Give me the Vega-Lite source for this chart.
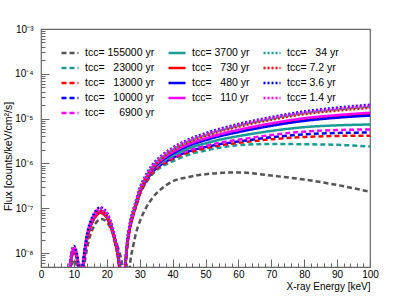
{
"$schema":"https://vega.github.io/schema/vega-lite/v6.json",
"width":329,"height":238,"autosize":"none",
"padding":{"left":41,"top":29,"right":41,"bottom":29},
"background":"white",
"config":{"view":{"stroke":"#666666","strokeWidth":1.2},"font":"Liberation Sans",
"axis":{"grid":false,"labelFont":"Liberation Sans","titleFont":"Liberation Sans","labelColor":"#000000","titleColor":"#000000","titleFontWeight":"normal","tickColor":"#666666","tickWidth":1}},
"data":{"values":[
{"t":"155000","e":8,"f":3e-10},{"t":"155000","e":8.5,"f":1e-9},{"t":"155000","e":9,"f":3.16e-9},{"t":"155000","e":10,"f":7.08e-9},{"t":"155000","e":11,"f":5.01e-9},{"t":"155000","e":11.6,"f":1.58e-9},{"t":"155000","e":12,"f":3e-10},{"t":"155000","e":12.4,"f":1.26e-9},{"t":"155000","e":13,"f":3.98e-9},{"t":"155000","e":14,"f":1.26e-8},{"t":"155000","e":15,"f":2.51e-8},{"t":"155000","e":16.5,"f":4.47e-8},{"t":"155000","e":18,"f":5.75e-8},{"t":"155000","e":19.5,"f":5.37e-8},{"t":"155000","e":21,"f":3.8e-8},{"t":"155000","e":22.5,"f":2.09e-8},{"t":"155000","e":23.5,"f":1.26e-8},{"t":"155000","e":24.3,"f":7.94e-9},{"t":"155000","e":24.8,"f":5.01e-9},{"t":"155000","e":25.3,"f":2.51e-9},{"t":"155000","e":26,"f":3e-10},{"t":"155000","e":27,"f":5.01e-9},{"t":"155000","e":28,"f":1.41e-8},{"t":"155000","e":29,"f":3.02e-8},{"t":"155000","e":30,"f":5.01e-8},{"t":"155000","e":32,"f":1.05e-7},{"t":"155000","e":34,"f":1.74e-7},{"t":"155000","e":37,"f":2.88e-7},{"t":"155000","e":40,"f":3.98e-7},{"t":"155000","e":45,"f":5.01e-7},{"t":"155000","e":50,"f":5.75e-7},{"t":"155000","e":55,"f":6.17e-7},{"t":"155000","e":60,"f":6.31e-7},{"t":"155000","e":70,"f":5.37e-7},{"t":"155000","e":80,"f":4.37e-7},{"t":"155000","e":90,"f":3.31e-7},{"t":"155000","e":100,"f":2.34e-7},
{"t":"23000","e":8,"f":3e-10},{"t":"23000","e":8.5,"f":2.29e-9},{"t":"23000","e":9,"f":5.75e-9},{"t":"23000","e":10,"f":1.1e-8},{"t":"23000","e":11,"f":6.92e-9},{"t":"23000","e":11.6,"f":2.29e-9},{"t":"23000","e":12,"f":3e-10},{"t":"23000","e":12.4,"f":2.29e-9},{"t":"23000","e":13,"f":6.46e-9},{"t":"23000","e":14,"f":2.04e-8},{"t":"23000","e":15,"f":3.8e-8},{"t":"23000","e":16.5,"f":6.46e-8},{"t":"23000","e":18,"f":7.94e-8},{"t":"23000","e":19.5,"f":6.92e-8},{"t":"23000","e":21,"f":4.27e-8},{"t":"23000","e":22.5,"f":1.74e-8},{"t":"23000","e":23.5,"f":7.24e-9},{"t":"23000","e":24.3,"f":1.82e-9},{"t":"23000","e":24.8,"f":3e-10},{"t":"23000","e":25.3,"f":1.82e-9},{"t":"23000","e":26,"f":1.02e-8},{"t":"23000","e":27,"f":3.47e-8},{"t":"23000","e":28,"f":6.92e-8},{"t":"23000","e":29,"f":1.17e-7},{"t":"23000","e":30,"f":1.99e-7},{"t":"23000","e":32,"f":3.78e-7},{"t":"23000","e":34,"f":5.96e-7},{"t":"23000","e":37,"f":8.76e-7},{"t":"23000","e":40,"f":1.12e-6},{"t":"23000","e":45,"f":1.58e-6},{"t":"23000","e":50,"f":1.95e-6},{"t":"23000","e":55,"f":2.29e-6},{"t":"23000","e":60,"f":2.57e-6},{"t":"23000","e":70,"f":2.72e-6},{"t":"23000","e":80,"f":2.69e-6},{"t":"23000","e":90,"f":2.6e-6},{"t":"23000","e":100,"f":2.4e-6},
{"t":"13000","e":8,"f":3e-10},{"t":"13000","e":8.5,"f":2.29e-9},{"t":"13000","e":9,"f":5.75e-9},{"t":"13000","e":10,"f":1.1e-8},{"t":"13000","e":11,"f":6.92e-9},{"t":"13000","e":11.6,"f":2.29e-9},{"t":"13000","e":12,"f":3e-10},{"t":"13000","e":12.4,"f":2.29e-9},{"t":"13000","e":13,"f":6.46e-9},{"t":"13000","e":14,"f":2.04e-8},{"t":"13000","e":15,"f":3.8e-8},{"t":"13000","e":16.5,"f":6.46e-8},{"t":"13000","e":18,"f":7.94e-8},{"t":"13000","e":19.5,"f":6.92e-8},{"t":"13000","e":21,"f":4.27e-8},{"t":"13000","e":22.5,"f":1.74e-8},{"t":"13000","e":23.5,"f":7.24e-9},{"t":"13000","e":24.3,"f":1.82e-9},{"t":"13000","e":24.8,"f":3e-10},{"t":"13000","e":25.3,"f":1.82e-9},{"t":"13000","e":26,"f":1.02e-8},{"t":"13000","e":27,"f":3.47e-8},{"t":"13000","e":28,"f":6.92e-8},{"t":"13000","e":29,"f":1.18e-7},{"t":"13000","e":30,"f":2.03e-7},{"t":"13000","e":32,"f":3.92e-7},{"t":"13000","e":34,"f":6.31e-7},{"t":"13000","e":37,"f":9.55e-7},{"t":"13000","e":40,"f":1.26e-6},{"t":"13000","e":45,"f":1.78e-6},{"t":"13000","e":50,"f":2.19e-6},{"t":"13000","e":55,"f":2.57e-6},{"t":"13000","e":60,"f":2.88e-6},{"t":"13000","e":70,"f":3.47e-6},{"t":"13000","e":80,"f":3.89e-6},{"t":"13000","e":90,"f":4.12e-6},{"t":"13000","e":100,"f":4.17e-6},
{"t":"10000","e":8,"f":3e-10},{"t":"10000","e":8.5,"f":2.4e-9},{"t":"10000","e":9,"f":6.03e-9},{"t":"10000","e":10,"f":1.15e-8},{"t":"10000","e":11,"f":7.24e-9},{"t":"10000","e":11.6,"f":2.4e-9},{"t":"10000","e":12,"f":3e-10},{"t":"10000","e":12.4,"f":2.4e-9},{"t":"10000","e":13,"f":6.76e-9},{"t":"10000","e":14,"f":2.14e-8},{"t":"10000","e":15,"f":3.98e-8},{"t":"10000","e":16.5,"f":6.76e-8},{"t":"10000","e":18,"f":8.32e-8},{"t":"10000","e":19.5,"f":7.24e-8},{"t":"10000","e":21,"f":4.47e-8},{"t":"10000","e":22.5,"f":1.82e-8},{"t":"10000","e":23.5,"f":7.59e-9},{"t":"10000","e":24.3,"f":1.91e-9},{"t":"10000","e":24.8,"f":3e-10},{"t":"10000","e":25.3,"f":1.91e-9},{"t":"10000","e":26,"f":1.07e-8},{"t":"10000","e":27,"f":3.63e-8},{"t":"10000","e":28,"f":7.24e-8},{"t":"10000","e":29,"f":1.24e-7},{"t":"10000","e":30,"f":2.12e-7},{"t":"10000","e":32,"f":4.1e-7},{"t":"10000","e":34,"f":6.61e-7},{"t":"10000","e":37,"f":1e-6},{"t":"10000","e":40,"f":1.32e-6},{"t":"10000","e":45,"f":1.87e-6},{"t":"10000","e":50,"f":2.32e-6},{"t":"10000","e":55,"f":2.74e-6},{"t":"10000","e":60,"f":3.09e-6},{"t":"10000","e":70,"f":3.85e-6},{"t":"10000","e":80,"f":4.47e-6},{"t":"10000","e":90,"f":4.79e-6},{"t":"10000","e":100,"f":4.9e-6},
{"t":"6900","e":8,"f":3e-10},{"t":"6900","e":8.5,"f":2.51e-9},{"t":"6900","e":9,"f":6.31e-9},{"t":"6900","e":10,"f":1.2e-8},{"t":"6900","e":11,"f":7.59e-9},{"t":"6900","e":11.6,"f":2.51e-9},{"t":"6900","e":12,"f":3e-10},{"t":"6900","e":12.4,"f":2.51e-9},{"t":"6900","e":13,"f":7.08e-9},{"t":"6900","e":14,"f":2.24e-8},{"t":"6900","e":15,"f":4.17e-8},{"t":"6900","e":16.5,"f":7.08e-8},{"t":"6900","e":18,"f":8.71e-8},{"t":"6900","e":19.5,"f":7.59e-8},{"t":"6900","e":21,"f":4.68e-8},{"t":"6900","e":22.5,"f":1.91e-8},{"t":"6900","e":23.5,"f":7.94e-9},{"t":"6900","e":24.3,"f":2e-9},{"t":"6900","e":24.8,"f":3e-10},{"t":"6900","e":25.3,"f":2e-9},{"t":"6900","e":26,"f":1.12e-8},{"t":"6900","e":27,"f":3.8e-8},{"t":"6900","e":28,"f":7.59e-8},{"t":"6900","e":29,"f":1.3e-7},{"t":"6900","e":30,"f":2.22e-7},{"t":"6900","e":32,"f":4.3e-7},{"t":"6900","e":34,"f":6.92e-7},{"t":"6900","e":37,"f":1.05e-6},{"t":"6900","e":40,"f":1.38e-6},{"t":"6900","e":45,"f":1.98e-6},{"t":"6900","e":50,"f":2.48e-6},{"t":"6900","e":55,"f":2.97e-6},{"t":"6900","e":60,"f":3.39e-6},{"t":"6900","e":70,"f":4.32e-6},{"t":"6900","e":80,"f":5.13e-6},{"t":"6900","e":90,"f":5.56e-6},{"t":"6900","e":100,"f":5.75e-6},
{"t":"3700","e":8,"f":3e-10},{"t":"3700","e":8.5,"f":2.51e-9},{"t":"3700","e":9,"f":6.31e-9},{"t":"3700","e":10,"f":1.2e-8},{"t":"3700","e":11,"f":7.59e-9},{"t":"3700","e":11.6,"f":2.51e-9},{"t":"3700","e":12,"f":3e-10},{"t":"3700","e":12.4,"f":2.51e-9},{"t":"3700","e":13,"f":7.08e-9},{"t":"3700","e":14,"f":2.24e-8},{"t":"3700","e":15,"f":4.17e-8},{"t":"3700","e":16.5,"f":7.08e-8},{"t":"3700","e":18,"f":8.71e-8},{"t":"3700","e":19.5,"f":7.59e-8},{"t":"3700","e":21,"f":4.68e-8},{"t":"3700","e":22.5,"f":1.91e-8},{"t":"3700","e":23.5,"f":7.94e-9},{"t":"3700","e":24.3,"f":2e-9},{"t":"3700","e":24.8,"f":3e-10},{"t":"3700","e":25.3,"f":2e-9},{"t":"3700","e":26,"f":1.12e-8},{"t":"3700","e":27,"f":3.8e-8},{"t":"3700","e":28,"f":7.59e-8},{"t":"3700","e":29,"f":1.31e-7},{"t":"3700","e":30,"f":2.25e-7},{"t":"3700","e":32,"f":4.4e-7},{"t":"3700","e":34,"f":7.16e-7},{"t":"3700","e":37,"f":1.1e-6},{"t":"3700","e":40,"f":1.48e-6},{"t":"3700","e":45,"f":2.19e-6},{"t":"3700","e":50,"f":2.82e-6},{"t":"3700","e":55,"f":3.47e-6},{"t":"3700","e":60,"f":4.07e-6},{"t":"3700","e":70,"f":5.31e-6},{"t":"3700","e":80,"f":6.46e-6},{"t":"3700","e":90,"f":7.08e-6},{"t":"3700","e":100,"f":7.41e-6},
{"t":"730","e":8,"f":3e-10},{"t":"730","e":8.5,"f":2.29e-9},{"t":"730","e":9,"f":5.75e-9},{"t":"730","e":10,"f":1.1e-8},{"t":"730","e":11,"f":6.92e-9},{"t":"730","e":11.6,"f":2.29e-9},{"t":"730","e":12,"f":3e-10},{"t":"730","e":12.4,"f":2.29e-9},{"t":"730","e":13,"f":6.46e-9},{"t":"730","e":14,"f":2.04e-8},{"t":"730","e":15,"f":3.8e-8},{"t":"730","e":16.5,"f":6.46e-8},{"t":"730","e":18,"f":7.94e-8},{"t":"730","e":19.5,"f":6.92e-8},{"t":"730","e":21,"f":4.27e-8},{"t":"730","e":22.5,"f":1.74e-8},{"t":"730","e":23.5,"f":7.24e-9},{"t":"730","e":24.3,"f":1.82e-9},{"t":"730","e":24.8,"f":3e-10},{"t":"730","e":25.3,"f":1.82e-9},{"t":"730","e":26,"f":1.02e-8},{"t":"730","e":27,"f":3.47e-8},{"t":"730","e":28,"f":6.92e-8},{"t":"730","e":29,"f":1.21e-7},{"t":"730","e":30,"f":2.13e-7},{"t":"730","e":32,"f":4.34e-7},{"t":"730","e":34,"f":7.33e-7},{"t":"730","e":37,"f":1.2e-6},{"t":"730","e":40,"f":1.7e-6},{"t":"730","e":45,"f":2.58e-6},{"t":"730","e":50,"f":3.43e-6},{"t":"730","e":55,"f":4.34e-6},{"t":"730","e":60,"f":5.25e-6},{"t":"730","e":70,"f":7.33e-6},{"t":"730","e":80,"f":9.55e-6},{"t":"730","e":90,"f":1.12e-5},{"t":"730","e":100,"f":1.26e-5},
{"t":"480","e":8,"f":3e-10},{"t":"480","e":8.5,"f":2.51e-9},{"t":"480","e":9,"f":6.31e-9},{"t":"480","e":10,"f":1.2e-8},{"t":"480","e":11,"f":7.59e-9},{"t":"480","e":11.6,"f":2.51e-9},{"t":"480","e":12,"f":3e-10},{"t":"480","e":12.4,"f":2.51e-9},{"t":"480","e":13,"f":7.08e-9},{"t":"480","e":14,"f":2.24e-8},{"t":"480","e":15,"f":4.17e-8},{"t":"480","e":16.5,"f":7.08e-8},{"t":"480","e":18,"f":8.71e-8},{"t":"480","e":19.5,"f":7.59e-8},{"t":"480","e":21,"f":4.68e-8},{"t":"480","e":22.5,"f":1.91e-8},{"t":"480","e":23.5,"f":7.94e-9},{"t":"480","e":24.3,"f":2e-9},{"t":"480","e":24.8,"f":3e-10},{"t":"480","e":25.3,"f":2e-9},{"t":"480","e":26,"f":1.12e-8},{"t":"480","e":27,"f":3.8e-8},{"t":"480","e":28,"f":7.59e-8},{"t":"480","e":29,"f":1.32e-7},{"t":"480","e":30,"f":2.29e-7},{"t":"480","e":32,"f":4.57e-7},{"t":"480","e":34,"f":7.59e-7},{"t":"480","e":37,"f":1.2e-6},{"t":"480","e":40,"f":1.66e-6},{"t":"480","e":45,"f":2.51e-6},{"t":"480","e":50,"f":3.31e-6},{"t":"480","e":55,"f":4.17e-6},{"t":"480","e":60,"f":5.01e-6},{"t":"480","e":70,"f":6.92e-6},{"t":"480","e":80,"f":8.91e-6},{"t":"480","e":90,"f":1.05e-5},{"t":"480","e":100,"f":1.17e-5},
{"t":"110","e":8,"f":3e-10},{"t":"110","e":8.5,"f":2.51e-9},{"t":"110","e":9,"f":6.31e-9},{"t":"110","e":10,"f":1.2e-8},{"t":"110","e":11,"f":7.59e-9},{"t":"110","e":11.6,"f":2.51e-9},{"t":"110","e":12,"f":3e-10},{"t":"110","e":12.4,"f":2.51e-9},{"t":"110","e":13,"f":7.08e-9},{"t":"110","e":14,"f":2.24e-8},{"t":"110","e":15,"f":4.17e-8},{"t":"110","e":16.5,"f":7.08e-8},{"t":"110","e":18,"f":8.71e-8},{"t":"110","e":19.5,"f":7.59e-8},{"t":"110","e":21,"f":4.68e-8},{"t":"110","e":22.5,"f":1.91e-8},{"t":"110","e":23.5,"f":7.94e-9},{"t":"110","e":24.3,"f":2e-9},{"t":"110","e":24.8,"f":3e-10},{"t":"110","e":25.3,"f":2e-9},{"t":"110","e":26,"f":1.12e-8},{"t":"110","e":27,"f":3.8e-8},{"t":"110","e":28,"f":7.59e-8},{"t":"110","e":29,"f":1.33e-7},{"t":"110","e":30,"f":2.32e-7},{"t":"110","e":32,"f":4.68e-7},{"t":"110","e":34,"f":7.85e-7},{"t":"110","e":37,"f":1.27e-6},{"t":"110","e":40,"f":1.78e-6},{"t":"110","e":45,"f":2.72e-6},{"t":"110","e":50,"f":3.63e-6},{"t":"110","e":55,"f":4.62e-6},{"t":"110","e":60,"f":5.62e-6},{"t":"110","e":70,"f":7.85e-6},{"t":"110","e":80,"f":1.02e-5},{"t":"110","e":90,"f":1.2e-5},{"t":"110","e":100,"f":1.35e-5},
{"t":"34","e":8,"f":3e-10},{"t":"34","e":8.5,"f":2.69e-9},{"t":"34","e":9,"f":6.76e-9},{"t":"34","e":10,"f":1.29e-8},{"t":"34","e":11,"f":8.13e-9},{"t":"34","e":11.6,"f":2.69e-9},{"t":"34","e":12,"f":3e-10},{"t":"34","e":12.4,"f":2.69e-9},{"t":"34","e":13,"f":7.59e-9},{"t":"34","e":14,"f":2.4e-8},{"t":"34","e":15,"f":4.47e-8},{"t":"34","e":16.5,"f":7.59e-8},{"t":"34","e":18,"f":9.33e-8},{"t":"34","e":19.5,"f":8.13e-8},{"t":"34","e":21,"f":5.01e-8},{"t":"34","e":22.5,"f":2.04e-8},{"t":"34","e":23.5,"f":8.51e-9},{"t":"34","e":24.3,"f":2.14e-9},{"t":"34","e":24.8,"f":3e-10},{"t":"34","e":25.3,"f":2.14e-9},{"t":"34","e":26,"f":1.2e-8},{"t":"34","e":27,"f":4.07e-8},{"t":"34","e":28,"f":8.13e-8},{"t":"34","e":29,"f":1.43e-7},{"t":"34","e":30,"f":2.5e-7},{"t":"34","e":32,"f":5.09e-7},{"t":"34","e":34,"f":8.61e-7},{"t":"34","e":37,"f":1.41e-6},{"t":"34","e":40,"f":2e-6},{"t":"34","e":45,"f":3.13e-6},{"t":"34","e":50,"f":4.27e-6},{"t":"34","e":55,"f":5.56e-6},{"t":"34","e":60,"f":6.92e-6},{"t":"34","e":70,"f":9.89e-6},{"t":"34","e":80,"f":1.32e-5},{"t":"34","e":90,"f":1.6e-5},{"t":"34","e":100,"f":1.86e-5},
{"t":"7.2","e":8,"f":3e-10},{"t":"7.2","e":8.5,"f":2.51e-9},{"t":"7.2","e":9,"f":6.31e-9},{"t":"7.2","e":10,"f":1.2e-8},{"t":"7.2","e":11,"f":7.59e-9},{"t":"7.2","e":11.6,"f":2.51e-9},{"t":"7.2","e":12,"f":3e-10},{"t":"7.2","e":12.4,"f":2.51e-9},{"t":"7.2","e":13,"f":7.08e-9},{"t":"7.2","e":14,"f":2.24e-8},{"t":"7.2","e":15,"f":4.17e-8},{"t":"7.2","e":16.5,"f":7.08e-8},{"t":"7.2","e":18,"f":8.71e-8},{"t":"7.2","e":19.5,"f":7.59e-8},{"t":"7.2","e":21,"f":4.68e-8},{"t":"7.2","e":22.5,"f":1.91e-8},{"t":"7.2","e":23.5,"f":7.94e-9},{"t":"7.2","e":24.3,"f":2e-9},{"t":"7.2","e":24.8,"f":3e-10},{"t":"7.2","e":25.3,"f":2e-9},{"t":"7.2","e":26,"f":1.12e-8},{"t":"7.2","e":27,"f":3.8e-8},{"t":"7.2","e":28,"f":7.59e-8},{"t":"7.2","e":29,"f":1.34e-7},{"t":"7.2","e":30,"f":2.35e-7},{"t":"7.2","e":32,"f":4.82e-7},{"t":"7.2","e":34,"f":8.22e-7},{"t":"7.2","e":37,"f":1.36e-6},{"t":"7.2","e":40,"f":1.95e-6},{"t":"7.2","e":45,"f":3.04e-6},{"t":"7.2","e":50,"f":4.12e-6},{"t":"7.2","e":55,"f":5.34e-6},{"t":"7.2","e":60,"f":6.61e-6},{"t":"7.2","e":70,"f":9.44e-6},{"t":"7.2","e":80,"f":1.26e-5},{"t":"7.2","e":90,"f":1.51e-5},{"t":"7.2","e":100,"f":1.74e-5},
{"t":"3.6","e":8,"f":3e-10},{"t":"3.6","e":8.5,"f":3.02e-9},{"t":"3.6","e":9,"f":7.59e-9},{"t":"3.6","e":10,"f":1.45e-8},{"t":"3.6","e":11,"f":9.12e-9},{"t":"3.6","e":11.6,"f":3.02e-9},{"t":"3.6","e":12,"f":3e-10},{"t":"3.6","e":12.4,"f":3.02e-9},{"t":"3.6","e":13,"f":8.51e-9},{"t":"3.6","e":14,"f":2.69e-8},{"t":"3.6","e":15,"f":5.01e-8},{"t":"3.6","e":16.5,"f":8.51e-8},{"t":"3.6","e":18,"f":1.05e-7},{"t":"3.6","e":19.5,"f":9.12e-8},{"t":"3.6","e":21,"f":5.62e-8},{"t":"3.6","e":22.5,"f":2.29e-8},{"t":"3.6","e":23.5,"f":9.55e-9},{"t":"3.6","e":24.3,"f":2.4e-9},{"t":"3.6","e":24.8,"f":3e-10},{"t":"3.6","e":25.3,"f":2.4e-9},{"t":"3.6","e":26,"f":1.35e-8},{"t":"3.6","e":27,"f":4.57e-8},{"t":"3.6","e":28,"f":9.12e-8},{"t":"3.6","e":29,"f":1.6e-7},{"t":"3.6","e":30,"f":2.81e-7},{"t":"3.6","e":32,"f":5.71e-7},{"t":"3.6","e":34,"f":9.66e-7},{"t":"3.6","e":37,"f":1.58e-6},{"t":"3.6","e":40,"f":2.24e-6},{"t":"3.6","e":45,"f":3.49e-6},{"t":"3.6","e":50,"f":4.73e-6},{"t":"3.6","e":55,"f":6.13e-6},{"t":"3.6","e":60,"f":7.59e-6},{"t":"3.6","e":70,"f":1.08e-5},{"t":"3.6","e":80,"f":1.45e-5},{"t":"3.6","e":90,"f":1.76e-5},{"t":"3.6","e":100,"f":2.04e-5},
{"t":"1.4","e":8,"f":3e-10},{"t":"1.4","e":8.5,"f":2.88e-9},{"t":"1.4","e":9,"f":7.24e-9},{"t":"1.4","e":10,"f":1.38e-8},{"t":"1.4","e":11,"f":8.71e-9},{"t":"1.4","e":11.6,"f":2.88e-9},{"t":"1.4","e":12,"f":3e-10},{"t":"1.4","e":12.4,"f":2.88e-9},{"t":"1.4","e":13,"f":8.13e-9},{"t":"1.4","e":14,"f":2.57e-8},{"t":"1.4","e":15,"f":4.79e-8},{"t":"1.4","e":16.5,"f":8.13e-8},{"t":"1.4","e":18,"f":1e-7},{"t":"1.4","e":19.5,"f":8.71e-8},{"t":"1.4","e":21,"f":5.37e-8},{"t":"1.4","e":22.5,"f":2.19e-8},{"t":"1.4","e":23.5,"f":9.12e-9},{"t":"1.4","e":24.3,"f":2.29e-9},{"t":"1.4","e":24.8,"f":3e-10},{"t":"1.4","e":25.3,"f":2.29e-9},{"t":"1.4","e":26,"f":1.29e-8},{"t":"1.4","e":27,"f":4.37e-8},{"t":"1.4","e":28,"f":8.71e-8},{"t":"1.4","e":29,"f":1.53e-7},{"t":"1.4","e":30,"f":2.68e-7},{"t":"1.4","e":32,"f":5.46e-7},{"t":"1.4","e":34,"f":9.23e-7},{"t":"1.4","e":37,"f":1.51e-6},{"t":"1.4","e":40,"f":2.14e-6},{"t":"1.4","e":45,"f":3.33e-6},{"t":"1.4","e":50,"f":4.52e-6},{"t":"1.4","e":55,"f":5.85e-6},{"t":"1.4","e":60,"f":7.24e-6},{"t":"1.4","e":70,"f":1.04e-5},{"t":"1.4","e":80,"f":1.38e-5},{"t":"1.4","e":90,"f":1.68e-5},{"t":"1.4","e":100,"f":1.95e-5}
]},
"layer":[
{"mark":{"type":"line","clip":true,"strokeWidth":2.5,"interpolate":"monotone"},
"encoding":{
"x":{"field":"e","type":"quantitative","scale":{"domain":[0,100],"nice":false,"zero":false},
"axis":{"orient":"bottom","values":[0,10,20,30,40,50,60,70,80,90,100],"ticks":false,"domain":false,"labelFontSize":10,"labelPadding":2,"labelFlush":false,"title":"X-ray Energy [keV]","titleAnchor":"end","titleFontSize":10,"titlePadding":2}},
"y":{"field":"f","type":"quantitative","scale":{"type":"log","domain":[4.9e-9,0.001],"nice":false},
"axis":{"orient":"left","values":[1e-8,1e-7,1e-6,1e-5,1e-4,1e-3],"ticks":false,"domain":false,"labelFontSize":10,"labelPadding":8,"labelFlush":false,
"labelExpr":"'10' + (datum.value > 5e-4 ? '\u207b\u00b3' : datum.value > 5e-5 ? '\u207b\u2074' : datum.value > 5e-6 ? '\u207b\u2075' : datum.value > 5e-7 ? '\u207b\u2076' : datum.value > 5e-8 ? '\u207b\u2077' : '\u207b\u2078')",
"title":"Flux [counts/keV/cm\u00b2/s]","titleFontSize":10.5,"titleX":-33,"titleY":127,"titleAngle":270,"titleAlign":"center","titleBaseline":"middle"}},
"color":{"field":"t","type":"nominal",
"scale":{"domain":["155000","3700","34","23000","730","7.2","13000","480","3.6","10000","110","1.4","6900"],
"range":["#555555","#1a9c96","#1a9c96","#1a9c96","#ff0000","#ff0000","#ff0000","#0000ff","#0000ff","#0000ff","#ff00ff","#ff00ff","#ff00ff"]},
"legend":{"title":null,"orient":"none","direction":"horizontal","legendX":19,"legendY":16.5,"columns":3,"symbolType":"stroke","symbolSize":289,"symbolStrokeWidth":2.5,"clipHeight":15,"rowPadding":0,"columnPadding":12,"labelFontSize":10.5,"labelFont":"Liberation Sans","labelColor":"#000000","labelOffset":5,"padding":0,
"labelExpr":"'tcc= ' + (indexof(['23000','13000','10000','730','480','110','34'], datum.label) >= 0 ? '\u00a0\u00a0' : datum.label == '6900' ? '\u00a0\u00a0\u00a0\u00a0' : '') + datum.label + ' yr'"}},
"strokeDash":{"field":"t","type":"nominal",
"scale":{"domain":["155000","3700","34","23000","730","7.2","13000","480","3.6","10000","110","1.4","6900"],
"range":[[5,3],[1,0],[2,2],[5,3],[1,0],[2,2],[5,3],[1,0],[2,2],[5,3],[1,0],[2,2],[5,3]]},
"legend":{"title":null,"orient":"none","direction":"horizontal","legendX":19,"legendY":16.5,"columns":3,"symbolType":"stroke","symbolSize":289,"symbolStrokeWidth":2.5,"clipHeight":15,"rowPadding":0,"columnPadding":12,"labelFontSize":10.5,"labelFont":"Liberation Sans","labelColor":"#000000","labelOffset":5,"padding":0,
"labelExpr":"'tcc= ' + (indexof(['23000','13000','10000','730','480','110','34'], datum.label) >= 0 ? '\u00a0\u00a0' : datum.label == '6900' ? '\u00a0\u00a0\u00a0\u00a0' : '') + datum.label + ' yr'"}}
}},
{"mark":{"type":"point","opacity":0,"clip":true},
"encoding":{
"x":{"field":"e","type":"quantitative",
"axis":{"orient":"bottom","values":[0,2,4,6,8,10,12,14,16,18,20,22,24,26,28,30,32,34,36,38,40,42,44,46,48,50,52,54,56,58,60,62,64,66,68,70,72,74,76,78,80,82,84,86,88,90,92,94,96,98,100],"labels":false,"domain":false,"title":null,"tickColor":"#666666",
"tickSize":{"condition":{"test":"datum.value % 10 === 0","value":-8},"value":-4}}},
"y":{"field":"f","type":"quantitative",
"axis":{"orient":"left","values":[5e-9,6e-9,7e-9,8e-9,9e-9,1e-8,2e-8,3e-8,4e-8,5e-8,6e-8,7e-8,8e-8,9e-8,1e-7,2e-7,3e-7,4e-7,5e-7,6e-7,7e-7,8e-7,9e-7,1e-6,2e-6,3e-6,4e-6,5e-6,6e-6,7e-6,8e-6,9e-6,1e-5,2e-5,3e-5,4e-5,5e-5,6e-5,7e-5,8e-5,9e-5,1e-4,2e-4,3e-4,4e-4,5e-4,6e-4,7e-4,8e-4,9e-4,1e-3],"labels":false,"domain":false,"title":null,"tickColor":"#666666",
"tickSize":{"condition":{"test":"abs(log(datum.value)/LN10 - round(log(datum.value)/LN10)) < 0.001","value":-8},"value":-4}}}
}}
],
"resolve":{"axis":{"x":"independent","y":"independent"}}
}
